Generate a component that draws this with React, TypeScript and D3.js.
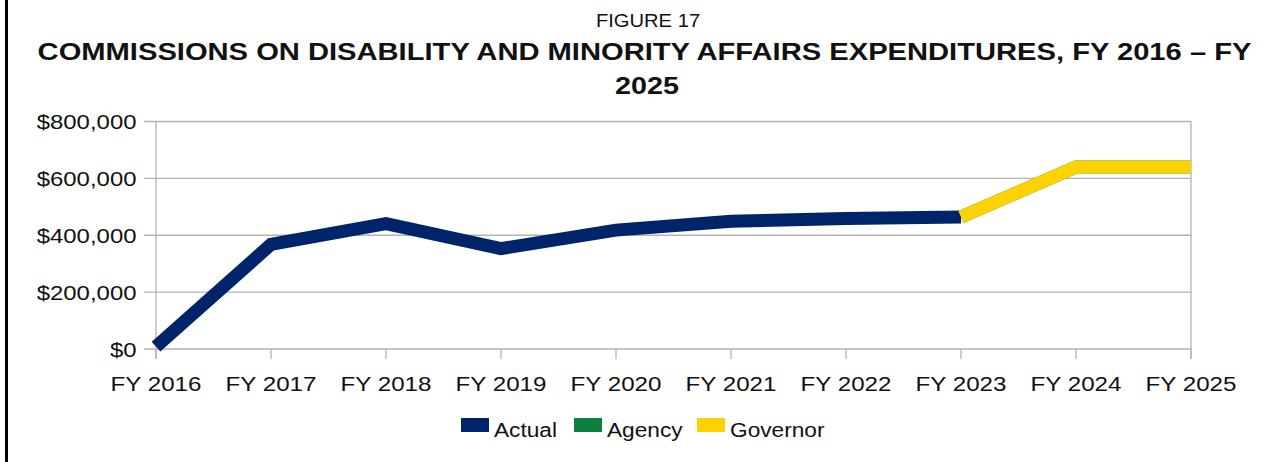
import React, { useEffect, useRef } from 'react';
import * as d3 from 'd3';

const years = ['FY 2016', 'FY 2017', 'FY 2018', 'FY 2019', 'FY 2020', 'FY 2021', 'FY 2022', 'FY 2023', 'FY 2024', 'FY 2025'];
const actual: (number | null)[] = [8000, 368000, 441000, 353000, 418000, 449000, 459000, 464000, null, null];
const agency: (number | null)[] = [null, null, null, null, null, null, null, 464000, 640000, 640000];
const governor: (number | null)[] = [null, null, null, null, null, null, null, 464000, 640000, 640000];
const yTicks = [0, 200000, 400000, 600000, 800000];

const seriesList = [
    { name: 'Actual', values: actual, color: '#002469' },
    { name: 'Agency', values: agency, color: '#0f7f40' },
    { name: 'Governor', values: governor, color: '#fcd200' },
];

const font = '"Liberation Sans", Arial, sans-serif';

// text stretched horizontally like the original export
const addText = (g: any, x: number, y: number, txt: string, size: number, sx: number, anchor = 'start', weight = 'normal') => {
    g.append('text')
        .attr('transform', `translate(${x},${y}) scale(${sx},1)`)
        .attr('text-anchor', anchor)
        .style('font-family', font)
        .style('font-size', size + 'px')
        .style('font-weight', weight)
        .attr('fill', '#111')
        .text(txt);
};

const App = () => {
    const ref = useRef<SVGSVGElement>(null);

    useEffect(() => {
        const svg = d3.select(ref.current);
        svg.selectAll('*').remove();

        const x = d3.scalePoint<string>().domain(years).range([156, 1191]);
        const y = d3.scaleLinear().domain([0, 800000]).range([349, 121.5]);

        // left frame line
        svg.append('rect').attr('x', 5).attr('y', 0).attr('width', 3).attr('height', 462).attr('fill', '#000');

        // titles
        addText(svg, 648, 27, 'FIGURE 17', 18, 1.12, 'middle');
        addText(svg, 644.5, 60, 'COMMISSIONS ON DISABILITY AND MINORITY AFFAIRS EXPENDITURES, FY 2016 \u2013 FY', 23, 1.267, 'middle', 'bold');
        addText(svg, 647, 94, '2025', 23, 1.25, 'middle', 'bold');

        // gridlines
        svg.append('g').selectAll('line').data(yTicks).enter().append('line')
            .attr('x1', 144).attr('x2', 1191)
            .attr('y1', d => y(d)).attr('y2', d => y(d))
            .attr('stroke', '#b3b3b3').attr('stroke-width', 1.3);

        // vertical axis lines + x ticks
        svg.append('line').attr('x1', 156).attr('x2', 156).attr('y1', y(800000)).attr('y2', 359)
            .attr('stroke', '#b3b3b3').attr('stroke-width', 1.3);
        svg.append('line').attr('x1', 1191).attr('x2', 1191).attr('y1', y(800000)).attr('y2', 359)
            .attr('stroke', '#b3b3b3').attr('stroke-width', 1.3);
        svg.append('g').selectAll('line').data(years).enter().append('line')
            .attr('x1', d => x(d)!).attr('x2', d => x(d)!)
            .attr('y1', 349).attr('y2', 359)
            .attr('stroke', '#b3b3b3').attr('stroke-width', 1.3);

        // y labels
        const yg = svg.append('g');
        yTicks.forEach(t => addText(yg, 136.5, y(t) + 7.5, d3.format('$,')(t), 21, 1.14, 'end'));

        // x labels
        const xg = svg.append('g');
        years.forEach(yr => addText(xg, x(yr)!, 391, yr, 21, 1.15, 'middle'));

        // lines
        const line = d3.line<number | null>()
            .defined(d => d !== null)
            .x((d, i) => x(years[i])!)
            .y(d => y(d as number));

        seriesList.forEach(s => {
            svg.append('path')
                .attr('d', line(s.values))
                .attr('fill', 'none')
                .attr('stroke', s.color)
                .attr('stroke-width', 13)
                .attr('stroke-linejoin', 'miter')
                .attr('stroke-linecap', 'butt');
        });

        // legend
        const legendX = [461, 574, 697];
        const legend = svg.append('g');
        seriesList.forEach((s, i) => {
            legend.append('rect').attr('x', legendX[i]).attr('y', 418).attr('width', 28).attr('height', 14)
                .attr('fill', s.color);
            addText(legend, legendX[i] + 33, 437, s.name, 21, 1.08);
        });
    }, []);

    return (
        <svg ref={ref} width={1288} height={462} style={{ position: 'absolute', left: 0, top: 0, background: '#fff' }} />
    );
};

export default App;
